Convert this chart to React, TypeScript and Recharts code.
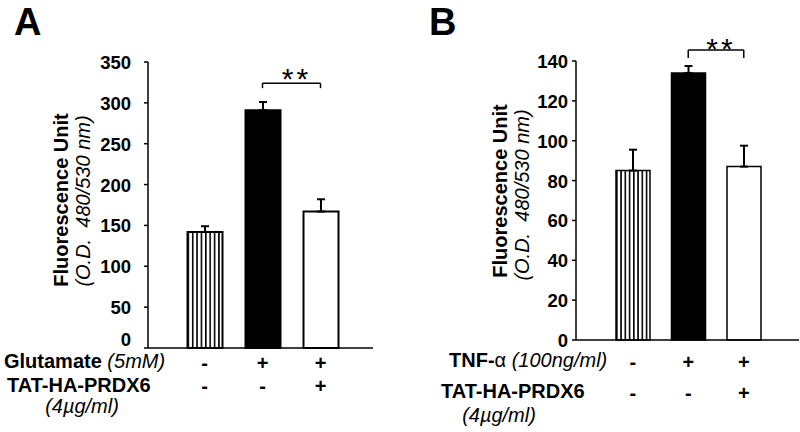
import React from 'react';
import { BarChart, Bar, XAxis, YAxis, Cell, ErrorBar, ReferenceLine } from 'recharts';

// ---------- Panel A data ----------
const groupsA = ['control', 'glutamate', 'glutamate+TAT'];
const valuesA = [142, 291, 167];
const errorsA = [7, 10, 15];
const glutamateA = ['-', '+', '+'];
const tatA = ['-', '-', '+'];
const ticksA = [0, 50, 100, 150, 200, 250, 300, 350];
const bracketA = { from: 'glutamate', to: 'glutamate+TAT', top: 324, foot: 318, label: '**' };

// ---------- Panel B data ----------
const groupsB = ['control', 'TNF', 'TNF+TAT'];
const valuesB = [85, 134, 87];
const errorsB = [10.5, 3.5, 10.5];
const tnfB = ['-', '+', '+'];
const tatB = ['-', '-', '+'];
const ticksB = [0, 20, 40, 60, 80, 100, 120, 140];
const bracketB = { from: 'TNF', to: 'TNF+TAT', top: 145.5, foot: 141.5, label: '**' };

const FONT = '"Liberation Sans", Arial, Helvetica, sans-serif';

const buildRows = (groups: string[], values: number[], errors: number[], r1: string[], r2: string[]) =>
  groups.map((g, i) => ({ group: g, value: values[i], err: [0, errors[i]], row1: r1[i], row2: r2[i] }));

const dataA = buildRows(groupsA, valuesA, errorsA, glutamateA, tatA);
const dataB = buildRows(groupsB, valuesB, errorsB, tnfB, tatB);

const makeXTick = (rows: any[], off1: number, off2: number) => (props: any) => {
  const { x, y, payload } = props;
  const row = rows[payload.index];
  return (
    <g>
      <text x={x} y={y + off1} textAnchor="middle" fontFamily={FONT} fontWeight="bold" fontSize={20} fill="#000">
        {row.row1}
      </text>
      <text x={x} y={y + off2} textAnchor="middle" fontFamily={FONT} fontWeight="bold" fontSize={20} fill="#000">
        {row.row2}
      </text>
    </g>
  );
};

const makeYTick = (zeroShift: number) => (props: any) => {
  const { x, y, payload } = props;
  const shift = payload.value === 0 ? zeroShift : 0;
  return (
    <text x={x} y={y + shift} dy={7} textAnchor="end" fontFamily={FONT} fontWeight="bold" fontSize={18.5} fill="#000">
      {payload.value}
    </text>
  );
};

const makeStars = (text: string, gap: number, dx: number) => (props: any) => {
  const vb = props.viewBox || {};
  const cx = (vb.x || 0) + (vb.width || 0) / 2 + dx;
  return (
    <text x={cx} y={(vb.y || 0) + gap} textAnchor="middle" fontFamily={FONT} fontSize={30} letterSpacing={3} fill="#000">
      {text}
    </text>
  );
};

const Bracket = (b: any, gap: number, dx: number) => [
  <ReferenceLine
    key="h"
    segment={[{ x: b.from, y: b.top }, { x: b.to, y: b.top }]}
    stroke="#000"
    strokeWidth={1.5}
    ifOverflow="visible"
    label={makeStars(b.label, gap, dx)}
  />,
  <ReferenceLine key="l" segment={[{ x: b.from, y: b.top }, { x: b.from, y: b.foot }]} stroke="#000" strokeWidth={1.5} ifOverflow="visible" />,
  <ReferenceLine key="r" segment={[{ x: b.to, y: b.top }, { x: b.to, y: b.foot }]} stroke="#000" strokeWidth={1.5} ifOverflow="visible" />,
];

const fills = (id: string) => [`url(#${id})`, '#000', '#fff'];

const StripeDefs = ({ id }: { id: string }) => (
  <defs>
    <pattern id={id} patternUnits="objectBoundingBox" width={0.125} height={1}>
      <rect x={0} y={0} width={1.6} height={2000} fill="#000" />
    </pattern>
  </defs>
);

export default function App() {
  return (
    <div style={{ position: 'absolute', left: 0, top: 0, width: 800, height: 432, background: '#fff', fontFamily: FONT }}>
      {/* Panel A */}
      <div style={{ position: 'absolute', left: 0, top: 0 }}>
        <BarChart width={400} height={432} data={dataA} margin={{ top: 62, right: 27, bottom: 0, left: 0 }}>
          <StripeDefs id="stripesA" />
          <YAxis
            width={148}
            domain={[0, 350]}
            ticks={ticksA}
            interval={0}
            tickSize={4}
            tickMargin={13}
            axisLine={{ stroke: '#000', strokeWidth: 1.5 }}
            tickLine={{ stroke: '#000', strokeWidth: 1.5 }}
            tick={makeYTick(-9)}
          />
          <XAxis
            dataKey="group"
            height={84}
            padding={{ left: 27.5, right: 23.5 }}
            axisLine={{ stroke: '#000', strokeWidth: 1.5 }}
            tickLine={false}
            tickSize={0}
            tickMargin={0}
            interval={0}
            tick={makeXTick(dataA, 21.5, 45)}
          />
          <Bar dataKey="value" barSize={35} stroke="#000" strokeWidth={2} isAnimationActive={false}>
            {dataA.map((d, i) => (
              <Cell key={d.group} fill={fills('stripesA')[i]} />
            ))}
            <ErrorBar dataKey="err" width={4} stroke="#000" strokeWidth={2} isAnimationActive={false} />
          </Bar>
          {Bracket(bracketA, 6, 5)}
        </BarChart>
      </div>

      {/* Panel B */}
      <div style={{ position: 'absolute', left: 400, top: 0 }}>
        <BarChart width={400} height={432} data={dataB} margin={{ top: 61, right: 1, bottom: 0, left: 0 }}>
          <StripeDefs id="stripesB" />
          <YAxis
            width={176}
            domain={[0, 140]}
            ticks={ticksB}
            interval={0}
            tickSize={4}
            tickMargin={4}
            axisLine={{ stroke: '#000', strokeWidth: 1.5 }}
            tickLine={{ stroke: '#000', strokeWidth: 1.5 }}
            tick={makeYTick(0)}
          />
          <XAxis
            dataKey="group"
            height={92}
            padding={{ left: 29, right: 27.5 }}
            axisLine={{ stroke: '#000', strokeWidth: 1.5 }}
            tickLine={false}
            tickSize={0}
            tickMargin={0}
            interval={0}
            tick={makeXTick(dataB, 28.5, 59.5)}
          />
          <Bar dataKey="value" barSize={34} stroke="#000" strokeWidth={1.5} isAnimationActive={false}>
            {dataB.map((d, i) => (
              <Cell key={d.group} fill={fills('stripesB')[i]} />
            ))}
            <ErrorBar dataKey="err" width={4} stroke="#000" strokeWidth={2} isAnimationActive={false} />
          </Bar>
          {Bracket(bracketB, 8.5, 5)}
        </BarChart>
      </div>

      {/* Text overlay: panel letters, axis titles, row labels */}
      <svg width={800} height={432} style={{ position: 'absolute', left: 0, top: 0, pointerEvents: 'none' }}>
        <g fontFamily={FONT} fill="#000">
          <text x={14} y={35} fontSize={38} fontWeight="bold">A</text>
          <text x={429} y={35} fontSize={38} fontWeight="bold">B</text>

          <text transform="translate(68,200) rotate(-90)" textAnchor="middle" fontSize={20} fontWeight="bold">Fluorescence Unit</text>
          <text transform="translate(90,201) rotate(-90)" textAnchor="middle" fontSize={20} fontStyle="italic">(O.D.{'\u00A0\u00A0'}480/530 nm)</text>

          <text transform="translate(507,191) rotate(-90)" textAnchor="middle" fontSize={20} fontWeight="bold">Fluorescence Unit</text>
          <text transform="translate(529,195) rotate(-90)" textAnchor="middle" fontSize={20} fontStyle="italic">(O.D.{'\u00A0\u00A0'}480/530 nm)</text>

          <text x={4} y={368} fontSize={20} fontWeight="bold">
            Glutamate <tspan fontStyle="italic" fontWeight="normal">(5mM)</tspan>
          </text>
          <text x={7} y={392} fontSize={20} fontWeight="bold">TAT-HA-PRDX6</text>
          <text x={82} y={413} fontSize={20} fontStyle="italic" textAnchor="middle">(4µg/ml)</text>

          <text x={449} y={367} fontSize={20} fontWeight="bold">
            TNF-<tspan fontWeight="normal">α</tspan> <tspan fontStyle="italic" fontWeight="normal">(100ng/ml)</tspan>
          </text>
          <text x={441} y={398} fontSize={20} fontWeight="bold">TAT-HA-PRDX6</text>
          <text x={499} y={422} fontSize={20} fontStyle="italic" textAnchor="middle">(4µg/ml)</text>
        </g>
      </svg>
    </div>
  );
}
